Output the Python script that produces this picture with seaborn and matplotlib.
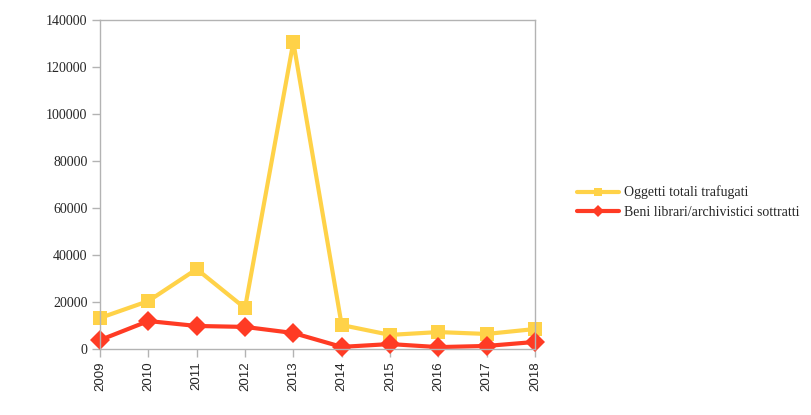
import matplotlib
matplotlib.use("Agg")
import matplotlib.pyplot as plt
import seaborn as sns
import pandas as pd

years = [2009, 2010, 2011, 2012, 2013, 2014, 2015, 2016, 2017, 2018]
oggetti = [13200, 20400, 34000, 17400, 130600, 10200, 6000, 7200, 6400, 8500]
beni = [3800, 11900, 9800, 9400, 6800, 900, 2100, 800, 1300, 3000]
series_names = ["Oggetti totali trafugati", "Beni librari/archivistici sottratti"]
colors = ["#FFD248", "#FF3B24"]
yticks = [0, 20000, 40000, 60000, 80000, 100000, 120000, 140000]

df = pd.DataFrame({
    "anno": [str(y) for y in years] * 2,
    "valore": oggetti + beni,
    "serie": [series_names[0]] * len(years) + [series_names[1]] * len(years),
})

sns.set_style("white")
fig = plt.figure(figsize=(8.12, 4.15), dpi=100)
ax = fig.add_axes([100/812, 66/415, 435/812, 329/415])

sns.lineplot(data=df, x="anno", y="valore", hue="serie", style="serie",
             markers={series_names[0]: "s", series_names[1]: "D"},
             dashes=False, palette=dict(zip(series_names, colors)),
             linewidth=3, markersize=10.5, markeredgewidth=0, ax=ax, sort=False)

ax.set_xlim(-0.0, len(years) - 1)
ax.set_ylim(0, 140000)
ax.set_yticks(yticks)
ax.set_yticklabels([str(v) for v in yticks], fontfamily="Liberation Serif", fontsize=10)
ax.set_xticks(range(len(years)))
ax.set_xticklabels([str(y) for y in years], rotation=90, fontfamily="Liberation Sans", fontsize=9.5)
ax.set_xlabel("")
ax.set_ylabel("")
for s in ax.spines.values():
    s.set_color("#b3b3b3")
    s.set_linewidth(1)
ax.tick_params(axis="both", which="both", length=6, color="#b3b3b3", width=1,
               direction="out", left=True, bottom=True, pad=3)
for ln in ax.lines:
    ln.set_clip_on(False)

handles, labels = ax.get_legend_handles_labels()
ax.get_legend().remove()
leg = fig.legend(handles, labels, loc="center left", bbox_to_anchor=(0.695, 0.513),
                 frameon=False, prop={"family": "Liberation Serif", "size": 10},
                 handlelength=3.0, labelspacing=0.45, handletextpad=0.4)
for h in leg.legend_handles:
    h.set_markersize(6)

fig.savefig("out.png", dpi=100)
